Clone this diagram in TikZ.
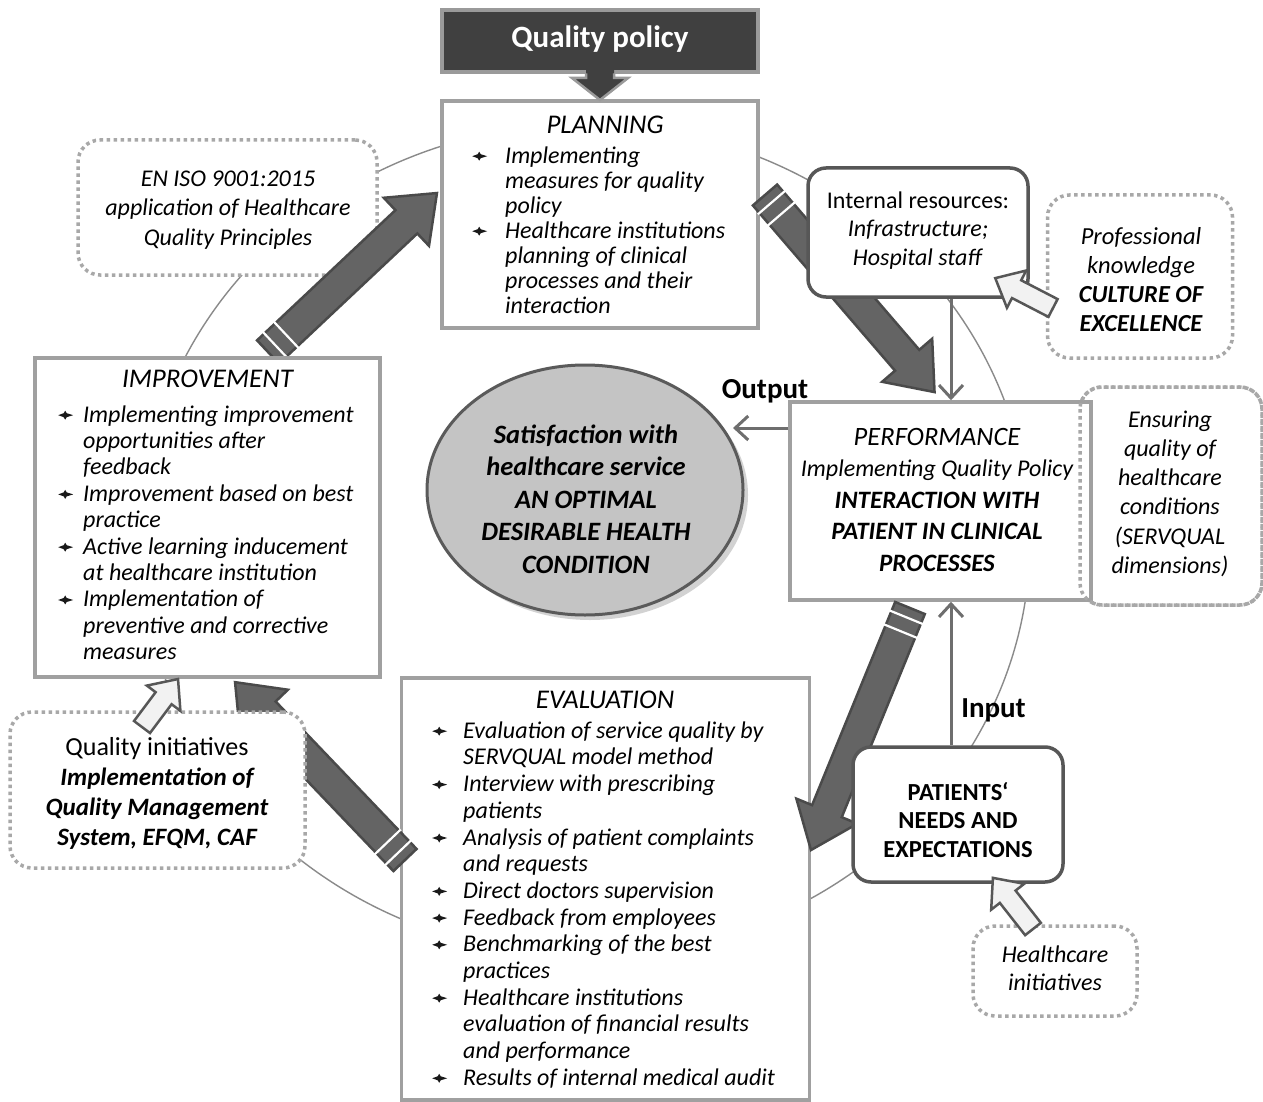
\documentclass[tikz,border=0pt]{standalone}
\usepackage{fontspec}
\setmainfont{Carlito}
\usetikzlibrary{arrows.meta,shapes.geometric}
\definecolor{boxgray}{HTML}{A0A0A0}
\definecolor{dotgray}{HTML}{A8A8A8}
\definecolor{darkbd}{HTML}{575757}
\definecolor{pencilfill}{HTML}{646464}
\definecolor{pencilbd}{HTML}{4A4A4A}
\definecolor{policyfill}{HTML}{404040}
\definecolor{policybd}{HTML}{9A9A9A}
\definecolor{thinarrc}{HTML}{6E6E6E}
\definecolor{ellfill}{HTML}{C4C4C4}
\definecolor{ellbd}{HTML}{5A5A5A}
\definecolor{lightfill}{HTML}{F2F2F2}
\definecolor{cyclegray}{HTML}{8A8A8A}
\newcommand\bul{\tikz[x=1pt,y=1pt,baseline=-7pt]\fill[black!90] (-7,0) -- (-1.5,2) -- (0,4.5) -- (1.5,2) -- (8,0) -- (1.5,-2) -- (0,-4.5) -- (-1.5,-2) -- cycle;}
\newcommand\bitem[2]{\bul\hspace{#1pt}#2}
\newcommand\bcont[2]{\hspace*{\dimexpr 15pt+#1pt\relax}#2}
\newcommand\pencilarrow[3]{%
 \begin{scope}[shift={#1},rotate=#2]
 \filldraw[fill=pencilfill,draw=pencilbd,line width=2.5pt,line join=miter]
 (0,-16) -- ({#3-42},-16) -- ({#3-42},-33) -- (#3,0) -- ({#3-42},33) -- ({#3-42},16) -- (0,16) -- cycle;
 \draw[white,line width=2.2pt] (10,-18) -- (10,18) (25,-18) -- (25,18);
 \end{scope}}
\newcommand\lightarr[3]{%
 \begin{scope}[shift={#1},rotate=#2]
 \filldraw[fill=lightfill,draw=darkbd,line width=2.5pt,line join=miter]
 (0,-10) -- ({#3-24},-10) -- ({#3-24},-21) -- (#3,0) -- ({#3-24},21) -- ({#3-24},10) -- (0,10) -- cycle;
 \end{scope}}
\begin{document}
\begin{tikzpicture}[x=1pt,y=-1pt,
 plainbox/.style={draw=boxgray,line width=3.5pt,fill=white,rectangle,inner sep=0pt},
 roundbox/.style={draw=darkbd,line width=3.5pt,fill=white,rectangle,rounded corners=18pt,inner sep=0pt},
 dotbox/.style={draw=dotgray,line width=3.5pt,dash pattern=on 3.5pt off 3.5pt,fill=white,rectangle,rounded corners=22pt,inner sep=0pt},
 ctext/.style={inner sep=0pt,anchor=north,align=center},
 ltext/.style={inner sep=0pt,anchor=north west,align=left},
 ttl/.style={inner sep=0pt,anchor=base,font=\fontsize{27}{30}\selectfont\itshape},
 lbl/.style={inner sep=0pt,anchor=base,font=\fontsize{29}{32}\selectfont\bfseries},
 thinarr/.style={draw=thinarrc,line width=3pt,-{Straight Barb[length=13pt,width=24pt]}}]
\useasboundingbox (0,0) rectangle (1263,1102);
\fill[white] (0,0) rectangle (1263,1102);
% background cycle
\draw[cyclegray,line width=1.4pt] (585,540) ellipse [x radius=445pt, y radius=416pt];
% EN ISO
\node[dotbox,minimum width=299pt,minimum height=135pt] (eniso) at (227.5,207.5) {};
\node[ctext,font=\fontsize{24}{29.5}\selectfont\itshape] (enisotext) at (228,165.4) {\strut EN ISO 9001:2015\\application of Healthcare\\Quality Principles};
\pencilarrow{(268,352)}{43.25}{232}
% PLANNING
\node[plainbox,minimum width=316pt,minimum height=227pt] (planning) at (600,214.5) {};
\node[ttl] (plantitle) at (605,134) {PLANNING};
\node[ltext,font=\fontsize{24}{25}\selectfont\itshape] (plantext) at (472,145.5) {\strut\bitem{18}{Implementing}\\
\bcont{18}{measures for quality}\\
\bcont{18}{policy}\\
\bitem{18}{Healthcare institutions}\\
\bcont{18}{planning of clinical}\\
\bcont{18}{processes and their}\\
\bcont{18}{interaction}};
\pencilarrow{(765,195)}{-49.3}{260}
% internal resources
\node[roundbox,minimum width=220pt,minimum height=129pt] (internal) at (918,232.5) {};
\node[ctext,font=\fontsize{24}{28.5}\selectfont] (internaltext) at (918,188) {\strut Internal resources:\\\textit{Infrastructure;}\\\textit{Hospital staff}};
% professional knowledge
\node[dotbox,minimum width=185pt,minimum height=163pt] (profknow) at (1140,276.5) {};
\node[ctext,font=\fontsize{24.5}{29}\selectfont\itshape] (proftext) at (1141,223.7) {\strut Professional\\knowledge\\\textbf{CULTURE OF}\\\textbf{EXCELLENCE}};
\lightarr{(1053,308)}{152.65}{65}
% IMPROVEMENT
\node[plainbox,minimum width=345pt,minimum height=319pt] (improvement) at (207.5,517.5) {};
\node[ttl] (imptitle) at (207.5,387) {IMPROVEMENT};
\node[ltext,font=\fontsize{24}{26.4}\selectfont\itshape] (imptext) at (58,403.5) {\strut\bitem{10}{Implementing improvement}\\
\bcont{10}{opportunities after}\\
\bcont{10}{feedback}\\
\bitem{10}{Improvement based on best}\\
\bcont{10}{practice}\\
\bitem{10}{Active learning inducement}\\
\bcont{10}{at healthcare institution}\\
\bitem{10}{Implementation of}\\
\bcont{10}{preventive and corrective}\\
\bcont{10}{measures}};
% central goal
\fill[black!35,opacity=0.5] (590,495) ellipse [x radius=158pt, y radius=125pt];
\node[ellipse,draw=ellbd,line width=3pt,fill=ellfill,minimum width=316pt,minimum height=250pt,inner sep=0pt] (goal) at (585,490) {};
\node[ctext,font=\fontsize{26.5}{32.5}\selectfont\bfseries\itshape] (goaltext) at (586,420.3) {\strut Satisfaction with\\healthcare service\\AN OPTIMAL\\DESIRABLE HEALTH\\CONDITION};
% PERFORMANCE and ensuring
\node[dotbox,minimum width=182pt,minimum height=218pt] (ensuring) at (1171,496) {};
\node[plainbox,minimum width=301pt,minimum height=198pt] (performance) at (940.5,501) {};
\draw[draw=dotgray,line width=3.5pt,dash pattern=on 3.5pt off 3.5pt,rounded corners=22pt] (1080,387) rectangle (1262,605);
\node[ctext,font=\fontsize{26.5}{31.5}\selectfont\itshape] (perftext) at (937,423) {\strut PERFORMANCE\\{\fontsize{24}{31.5}\selectfont Implementing Quality Policy}\\{\fontsize{25}{31.5}\selectfont\bfseries INTERACTION WITH}\\{\fontsize{25}{31.5}\selectfont\bfseries PATIENT IN CLINICAL}\\{\fontsize{25}{31.5}\selectfont\bfseries PROCESSES}};
\node[ctext,font=\fontsize{24}{29.2}\selectfont\itshape] (enstext) at (1170,406.6) {\strut Ensuring\\quality of\\healthcare\\conditions\\(SERVQUAL\\dimensions)};
% EVALUATION
\node[plainbox,minimum width=408pt,minimum height=422pt] (evaluation) at (605.5,889) {};
\node[ttl] (evaltitle) at (605,708) {EVALUATION};
\node[ltext,font=\fontsize{24}{26.7}\selectfont\itshape] (evaltext) at (432,719.3) {\strut\bitem{16}{Evaluation of service quality by}\\
\bcont{16}{SERVQUAL model method}\\
\bitem{16}{Interview with prescribing}\\
\bcont{16}{patients}\\
\bitem{16}{Analysis of patient complaints}\\
\bcont{16}{and requests}\\
\bitem{16}{Direct doctors supervision}\\
\bitem{16}{Feedback from employees}\\
\bitem{16}{Benchmarking of the best}\\
\bcont{16}{practices}\\
\bitem{16}{Healthcare institutions}\\
\bcont{16}{evaluation of financial results}\\
\bcont{16}{and performance}\\
\bitem{16}{Results of internal medical audit}};
% patients
\pencilarrow{(910,608)}{-112.25}{261.5}
\node[roundbox,minimum width=210pt,minimum height=135pt] (patients) at (958,814.5) {};
\node[ctext,font=\fontsize{24.5}{28.5}\selectfont\bfseries] (pattext) at (958,780) {\strut PATIENTS‘\\NEEDS AND\\EXPECTATIONS};
% quality initiatives
\pencilarrow{(405,860)}{133.7}{246}
\node[dotbox,minimum width=295pt,minimum height=156pt] (qinit) at (157.5,790) {};
\node[ctext,font=\fontsize{26}{30}\selectfont] (qinittext) at (157,734) {\strut Quality initiatives\\{\fontsize{25}{30}\selectfont\bfseries\itshape Implementation of}\\{\fontsize{25}{30}\selectfont\bfseries\itshape Quality Management}\\{\fontsize{25}{30}\selectfont\bfseries\itshape System, EFQM, CAF}};
\lightarr{(142,727)}{53.1}{60}
% healthcare initiatives
\node[dotbox,minimum width=164pt,minimum height=90pt] (hinit) at (1055,971) {};
\node[ctext,font=\fontsize{24}{28}\selectfont\itshape] (hinittext) at (1055,942.4) {\strut Healthcare\\initiatives};
\lightarr{(1033,929)}{128.1}{65}
% quality policy
\node[draw=policybd,line width=3.5pt,fill=policyfill,minimum width=316pt,minimum height=62pt,inner sep=0pt] (policy) at (600,41) {};
\node[inner sep=0pt,anchor=base,text=white,font=\fontsize{31}{36}\selectfont\bfseries] (policytext) at (600,48) {Quality policy};
\fill[policyfill] (586,70) -- (586,78) -- (572,78) -- (600,100) -- (628,78) -- (614,78) -- (614,70) -- cycle;
\draw[policybd,line width=2.5pt,line join=miter] (586,73.5) -- (586,78) -- (572,78) -- (600,100) -- (628,78) -- (614,78) -- (614,73.5);
% thin arrows
\coordinate (ax) at (951,0);
\coordinate (outtip) at (733,428);
\draw[thinarr] (internal.south -| ax) -- (performance.north -| ax);
\draw[thinarr] (patients.north -| ax) -- (performance.south -| ax);
\draw[thinarr] (performance.west |- outtip) -- (outtip);
\node[lbl] (outlbl) at (765,398) {Output};
\node[lbl] (inlbl) at (993.5,717) {Input};
\end{tikzpicture}
\end{document}
